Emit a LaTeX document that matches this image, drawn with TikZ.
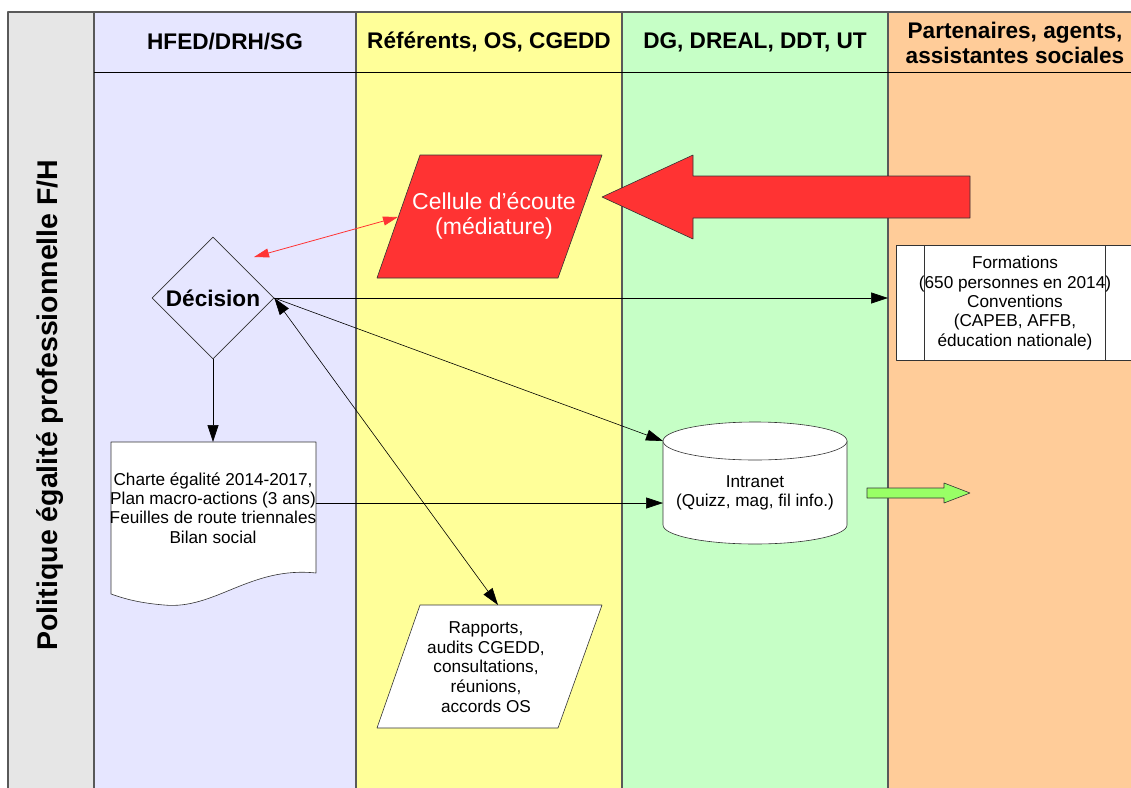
\documentclass[tikz,border=0pt]{standalone}
\usepackage{fontspec}
\setmainfont{Liberation Sans}
\usetikzlibrary{shapes.geometric}
\usetikzlibrary{arrows.meta}

\definecolor{lanegray}{HTML}{E6E6E6}
\definecolor{lanelav}{HTML}{E6E6FF}
\definecolor{laneyel}{HTML}{FFFF99}
\definecolor{lanegreen}{HTML}{C6FFC6}
\definecolor{laneorange}{HTML}{FFCC99}
\definecolor{alertred}{HTML}{FF3333}
\definecolor{okgreen}{HTML}{99FF66}

\begin{document}
\begin{tikzpicture}[x=1pt,y=-1pt,line join=bevel,
  lane/.style={draw=black!65,line width=1.3pt},
  head/.style={font=\fontsize{22.6}{25}\selectfont\bfseries,align=center},
  txt/.style={font=\fontsize{17.2}{19.3}\selectfont,align=center},
  outline/.style={draw=black!80,line width=0.6pt},
  flow/.style={line width=0.6pt,-{Triangle[length=17pt,width=11pt]}},
  both/.style={line width=0.6pt,{Triangle[length=17pt,width=11pt]}-{Triangle[length=17pt,width=11pt]}},
  redflow/.style={draw=alertred,line width=0.8pt,{Triangle[length=15pt,width=9pt]}-{Triangle[length=15pt,width=9pt]}}]
  \useasboundingbox (0,0) rectangle (1131,787);
  \clip (0,0) rectangle (1131,787);

  \path[lane,fill=lanegray] (8,12) rectangle (94,800);
  \path[lane,fill=lanelav] (94,12) rectangle (356,800);
  \path[lane,fill=laneyel] (356,12) rectangle (622,800);
  \path[lane,fill=lanegreen] (622,12) rectangle (888,800);
  \path[lane,fill=laneorange] (888,12) rectangle (1140,800);
  \draw[line width=0.8pt] (94,72) -- (1140,72);

  \node[head] (hfed) at (225,42) {HFED/DRH/SG};
  \node[head] (refs) at (489,42) {Référents, OS, CGEDD};
  \node[head] (dreal) at (755,42) {DG, DREAL, DDT, UT};
  \node[head] (part) at (1015,43) {Partenaires, agents,\\assistantes sociales};
  \node[rotate=90,font=\fontsize{28.5}{30}\selectfont\bfseries] (titre) at (50,405) {Politique égalité professionnelle F/H};

  \node[diamond,outline,minimum size=122pt,inner sep=0pt,font=\fontsize{22.6}{25}\selectfont\bfseries] (dec) at (213,298) {Décision};

  \path[outline,fill=alertred] (420,155) -- (602,155) -- (558,278) -- (377,278) -- cycle;
  \node[align=center,text=white,font=\fontsize{23}{25}\selectfont] (cel) at (494,216) {Cellule d’écoute\\(médiature)};
  \path[outline,fill=alertred] (970,176) -- (693,176) -- (693,155) -- (602,197) -- (693,239) -- (693,218) -- (970,218) -- cycle;

  \path[outline,fill=white] (896,245) rectangle (1131,360);
  \draw[outline] (924,245) -- (924,360) (1105,245) -- (1105,360);
  \node[txt] (form) at (1015,303) {Formations\\(650 personnes en 2014)\\Conventions\\(CAPEB, AFFB,\\éducation nationale)};

  \path[outline,fill=white] (111,442) -- (316,442) -- (316,573) .. controls (250,566) and (215,610) .. (164,605) .. controls (140,603) and (125,599) .. (111,594) -- cycle;
  \node[txt] (charte) at (213,508) {Charte égalité 2014-2017,\\Plan macro-actions (3 ans)\\Feuilles de route triennales\\Bilan social};

  \path[outline,fill=white] (663,441) -- (663,525) arc[start angle=180,end angle=360,x radius=92pt,y radius=19pt] -- (847,441) -- cycle;
  \path[outline,fill=white] (755,441) ellipse [x radius=92pt,y radius=19pt];
  \node[txt] (intra) at (755,493) {Intranet\\(Quizz, mag, fil info.)};
  \path[outline,fill=okgreen] (867,488) -- (944,488) -- (944,483) -- (970,493) -- (944,503) -- (944,498) -- (867,498) -- cycle;

  \path[outline,fill=white] (420,605) -- (602,605) -- (558,728) -- (377,728) -- cycle;
  \node[txt,font=\fontsize{17.2}{19.6}\selectfont] (rap) at (486,667) {Rapports,\\audits CGEDD,\\consultations,\\réunions,\\accords OS};

  \coordinate (formin) at (888,298);
  \coordinate (chtop) at (213,442);
  \coordinate (chright) at (316,503);
  \coordinate (intW) at (663,503);
  \coordinate (intNW) at (663,441);
  \coordinate (raptop) at (498,605);
  \coordinate (redend) at (254,257);
  \coordinate (celW) at (398,217);

  \draw[flow] (dec.east) -- (formin);
  \draw[flow] (dec.south) -- (chtop);
  \draw[flow] (chright) -- (intW);
  \draw[flow] (dec.east) -- (intNW);
  \draw[both] (dec.east) -- (raptop);
  \draw[redflow] (redend) -- (celW);
\end{tikzpicture}
\end{document}
